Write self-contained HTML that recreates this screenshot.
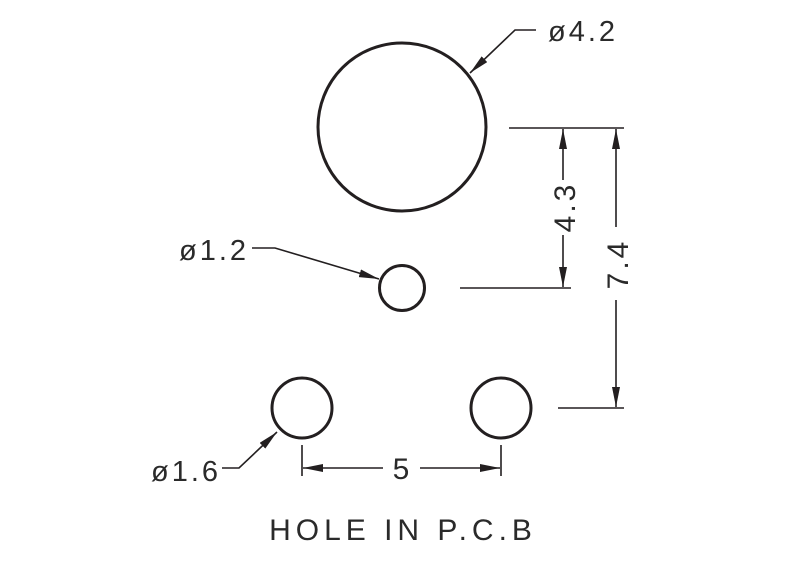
<!DOCTYPE html>
<html><head><meta charset="utf-8"><style>
html,body{margin:0;padding:0;background:#fff;}
svg{display:block;}
text{font-family:"Liberation Sans",sans-serif;fill:#2a2a2a;}
</style></head><body>
<svg width="800" height="576" viewBox="0 0 800 576" xmlns="http://www.w3.org/2000/svg">
<defs>
<marker id="a" viewBox="0 0 20 8" refX="20" refY="4" markerWidth="20" markerHeight="8" markerUnits="userSpaceOnUse" orient="auto">
<path d="M0,0 L20,4 L0,8 Z" fill="#231f20"/>
</marker>
</defs>
<g fill="none" stroke="#231f20">
<circle cx="402" cy="127" r="84" stroke-width="3"/>
<circle cx="402" cy="288" r="22.5" stroke-width="3"/>
<circle cx="302" cy="408" r="30" stroke-width="3"/>
<circle cx="501" cy="408" r="30" stroke-width="3"/>
<g stroke-width="1.6">
<line x1="509" y1="128" x2="624" y2="128"/>
<line x1="460" y1="288" x2="571" y2="288"/>
<line x1="558" y1="408" x2="624" y2="408"/>
<line x1="563" y1="180" x2="563" y2="129" marker-end="url(#a)"/>
<line x1="563" y1="235" x2="563" y2="287" marker-end="url(#a)"/>
<line x1="616" y1="227" x2="616" y2="129" marker-end="url(#a)"/>
<line x1="616" y1="300" x2="616" y2="407" marker-end="url(#a)"/>
<line x1="302" y1="445" x2="302" y2="476"/>
<line x1="501" y1="445" x2="501" y2="476"/>
<line x1="383" y1="468" x2="303" y2="468" marker-end="url(#a)"/>
<line x1="420" y1="468" x2="500" y2="468" marker-end="url(#a)"/>
<polyline points="536,30 515,30 470,73" marker-end="url(#a)"/>
<polyline points="252,248 275,248 379,279" marker-end="url(#a)"/>
<polyline points="222,468 239,468 277,432" marker-end="url(#a)"/>
</g>
</g>
<text x="548" y="41" font-size="29" letter-spacing="3">ø4.2</text>
<text x="179" y="260" font-size="29" letter-spacing="3">ø1.2</text>
<text x="151" y="481" font-size="29" letter-spacing="3">ø1.6</text>
<text x="401" y="479" font-size="30" text-anchor="middle">5</text>
<text transform="translate(575,207) rotate(-90)" font-size="30" text-anchor="middle" letter-spacing="3">4.3</text>
<text transform="translate(628,264) rotate(-90)" font-size="30" text-anchor="middle" letter-spacing="3">7.4</text>
<text x="403" y="540" font-size="30" text-anchor="middle" letter-spacing="5">HOLE IN P.C.B</text>
</svg>
</body></html>
